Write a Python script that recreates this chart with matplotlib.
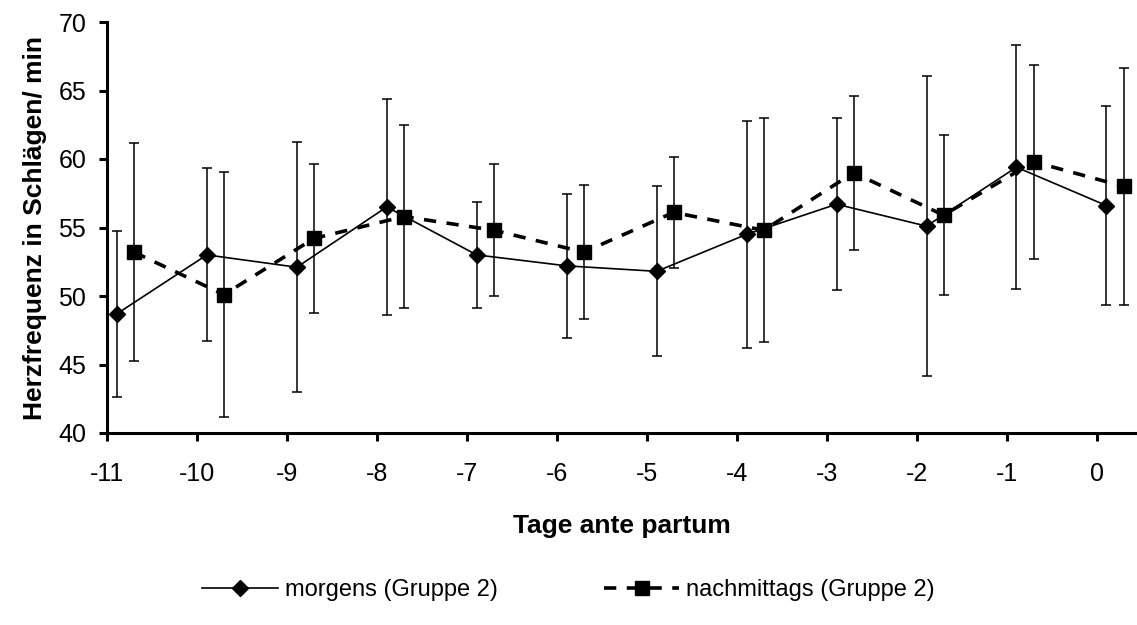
import matplotlib
matplotlib.use("Agg")
import matplotlib.pyplot as plt
import numpy as np

days = [-11, -10, -9, -8, -7, -6, -5, -4, -3, -2, -1, 0]
tick_labels = ["-11", "-10", "-9", "-8", "-7", "-6", "-5", "-4", "-3", "-2", "-1", "0"]

morgens_mean = [48.7, 53.0, 52.1, 56.5, 53.0, 52.2, 51.8, 54.5, 56.7, 55.1, 59.4, 56.6]
morgens_sd = [6.05, 6.31, 9.12, 7.87, 3.89, 5.26, 6.20, 8.26, 6.26, 10.93, 8.90, 7.28]

nachm_mean = [53.2, 50.1, 54.2, 55.8, 54.8, 53.2, 56.1, 54.8, 59.0, 55.9, 59.8, 58.0]
nachm_sd = [7.94, 8.96, 5.47, 6.71, 4.82, 4.88, 4.07, 8.16, 5.61, 5.83, 7.07, 8.66]

morgens_offset = 0.11
nachm_offset = 0.30

plt.rcParams['font.family'] = ['Liberation Sans', 'DejaVu Sans']

fig = plt.figure(figsize=(11.37, 6.25), dpi=100)
ax = fig.add_axes([107/1137, 1 - 433/625, (1137 - 107)/1137, (433 - 22)/625])

x = np.array(days, dtype=float)

ax.errorbar(x + morgens_offset, morgens_mean, yerr=morgens_sd, fmt='none',
            ecolor='black', elinewidth=1.1, capsize=3.3, capthick=1.1, zorder=2)
ax.errorbar(x + nachm_offset, nachm_mean, yerr=nachm_sd, fmt='none',
            ecolor='black', elinewidth=1.1, capsize=3.3, capthick=1.1, zorder=2)

ax.plot(x + morgens_offset, morgens_mean, color='black', lw=1.2, marker='D',
        ms=7.8, label='morgens (Gruppe 2)', zorder=3)
ax.plot(x + nachm_offset, nachm_mean, color='black', lw=2.6, ls=(0, (3.4, 2.9)),
        marker='s', ms=10.5, label='nachmittags (Gruppe 2)', zorder=3,
        dash_capstyle='butt')

ax.set_xlim(-11, 0.45)
ax.set_ylim(40, 70)
ax.set_yticks(np.arange(40, 71, 5))
ax.set_xticks(days)
ax.set_xticklabels(tick_labels)

for s in ['top', 'right']:
    ax.spines[s].set_visible(False)
for s in ['left', 'bottom']:
    ax.spines[s].set_linewidth(2.2)

ax.tick_params(axis='both', direction='out', length=6, width=2.2, labelsize=18)
ax.tick_params(axis='x', pad=15)
ax.tick_params(axis='y', pad=9)

ax.set_ylabel('Herzfrequenz in Schlägen/ min', fontsize=19, fontweight='bold', labelpad=8)
ax.set_xlabel('Tage ante partum', fontsize=19, fontweight='bold', labelpad=20)

leg = fig.legend(loc='center', bbox_to_anchor=(0.5, 1 - 590/625), ncol=2, frameon=False,
                 fontsize=17, handlelength=3.2, columnspacing=4.5, handletextpad=0.3)

fig.savefig('out.png', dpi=100)
